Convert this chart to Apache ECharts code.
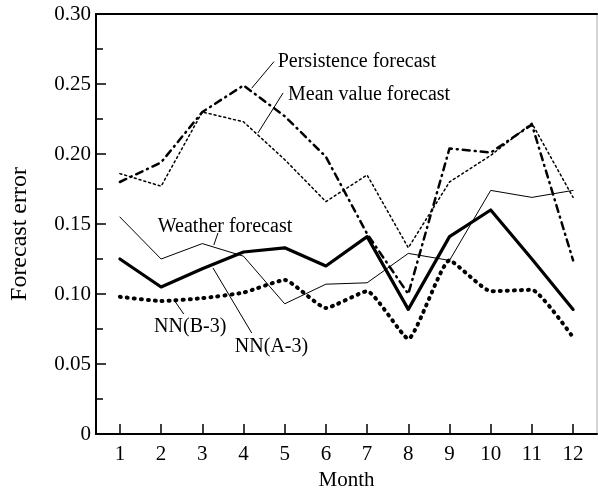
<!DOCTYPE html>
<html>
<head>
<meta charset="utf-8">
<title>Forecast error by month</title>
<script src="https://cdn.jsdelivr.net/npm/echarts@6/dist/echarts.min.js"></script>
<style>
  html, body { margin: 0; padding: 0; background: #fff; }
  #main { width: 598px; height: 489px; }
</style>
</head>
<body>
<div id="main"></div>
<script>
// months on the x axis
var months = [1, 2, 3, 4, 5, 6, 7, 8, 9, 10, 11, 12];
// y axis tick values
var yTicks = [0, 0.05, 0.10, 0.15, 0.20, 0.25, 0.30];

// forecast error per month
var persistence = [0.180, 0.194, 0.230, 0.249, 0.227, 0.198, 0.143, 0.100, 0.204, 0.201, 0.221, 0.124];
var meanValue   = [0.186, 0.177, 0.230, 0.223, 0.196, 0.166, 0.185, 0.133, 0.180, 0.199, 0.222, 0.169];
var weather     = [0.155, 0.125, 0.136, 0.127, 0.093, 0.107, 0.108, 0.129, 0.124, 0.174, 0.169, 0.174];
var nnA3        = [0.125, 0.105, 0.118, 0.130, 0.133, 0.120, 0.141, 0.089, 0.141, 0.160, 0.125, 0.089];
var nnB3        = [0.098, 0.095, 0.097, 0.101, 0.110, 0.090, 0.102, 0.068, 0.124, 0.102, 0.103, 0.069];

var FONT = '"Liberation Serif", "Times New Roman", serif';

function pairs(vals) {
  return months.map(function (m, i) { return [m, vals[i]]; });
}

function lineSeries(name, vals, style, z) {
  return {
    name: name,
    type: 'line',
    data: pairs(vals),
    symbol: 'none',
    z: z,
    lineStyle: Object.assign({ color: '#000', cap: 'round', join: 'round' }, style)
  };
}

var myChart = echarts.init(document.getElementById('main'), null, { renderer: 'canvas' });

var option = {
  animation: false,
  backgroundColor: '#fff',
  grid: {
    left: 96, right: 1, top: 14, bottom: 55,
    outerBoundsMode: 'none',
    show: true, borderColor: '#aaa', borderWidth: 1
  },
  xAxis: [{
    type: 'value',
    min: 0.42, max: 12.58,
    splitLine: { show: false },
    axisLine: { show: true, lineStyle: { color: '#000', width: 2 } },
    axisTick: { show: true, inside: true, length: 10, customValues: months,
                lineStyle: { color: '#000', width: 1.5 } },
    axisLabel: { customValues: months, margin: 10, color: '#000',
                 fontFamily: FONT, fontSize: 21 },
    name: 'Month',
    nameLocation: 'middle',
    nameGap: 33,
    nameTextStyle: { color: '#000', fontFamily: FONT, fontSize: 21 }
  }, {
    type: 'value',
    position: 'top',
    min: 0.42, max: 12.58,
    splitLine: { show: false },
    axisLine: { show: true, lineStyle: { color: '#000', width: 2 } },
    axisTick: { show: false },
    axisLabel: { show: false }
  }],
  yAxis: {
    type: 'value',
    min: 0, max: 0.3, interval: 0.05,
    splitLine: { show: false },
    axisLine: { show: true, lineStyle: { color: '#000', width: 2 } },
    axisTick: { show: true, inside: true, length: 10, lineStyle: { color: '#000', width: 1.5 } },
    minorTick: { show: true, splitNumber: 2, length: 7, lineStyle: { color: '#000', width: 1.5 } },
    axisLabel: {
      margin: 5, color: '#000', fontFamily: FONT, fontSize: 21,
      formatter: function (v) { return v === 0 ? '0' : v.toFixed(2); }
    }
  },
  series: [
    lineSeries('Persistence forecast', persistence, { width: 2.5, type: [7, 5, 1, 5] }, 3),
    lineSeries('Mean value forecast', meanValue, { width: 1.5, type: [2, 3] }, 3),
    lineSeries('Weather forecast', weather, { width: 1 }, 4),
    lineSeries('NN(A-3)', nnA3, { width: 3.2 }, 5),
    Object.assign(lineSeries('NN(B-3)', nnB3, { width: 4, type: [1, 6] }, 5), { smooth: 0.15 })
  ]
};

myChart.setOption(option);

// annotation labels with leader lines, anchored in data units [month, value]
var notes = [
  { text: 'Persistence forecast', at: [4.83, 0.266], from: [4.20, 0.247], to: [4.74, 0.266] },
  { text: 'Mean value forecast',  at: [5.08, 0.242], from: [4.35, 0.215], to: [4.96, 0.2436] },
  { text: 'Weather forecast',     at: [1.92, 0.148], from: [3.28, 0.135], to: [3.38, 0.1436] },
  { text: 'NN(B-3)',              at: [1.83, 0.0764], from: [2.33, 0.095], to: [2.55, 0.0857] },
  { text: 'NN(A-3)',              at: [3.79, 0.062], from: [3.26, 0.1186], to: [4.20, 0.0721] }
];

var elements = [];
notes.forEach(function (n) {
  var p = myChart.convertToPixel({ gridIndex: 0 }, n.at);
  var a = myChart.convertToPixel({ gridIndex: 0 }, n.from);
  var b = myChart.convertToPixel({ gridIndex: 0 }, n.to);
  elements.push({
    type: 'text', x: p[0], y: p[1], z: 10,
    style: { text: n.text, fill: '#000', font: '20px ' + FONT,
             textAlign: 'left', textVerticalAlign: 'middle' }
  });
  elements.push({
    type: 'line', z: 10,
    shape: { x1: a[0], y1: a[1], x2: b[0], y2: b[1] },
    style: { stroke: '#000', lineWidth: 1 }
  });
});

// y axis title, rotated and a little below centre as in the original
elements.push({
  type: 'text', x: 20, y: 234, rotation: Math.PI / 2,
  style: { text: 'Forecast error', fill: '#000', font: '24px ' + FONT,
           textAlign: 'center', textVerticalAlign: 'middle' }
});

myChart.setOption({ graphic: { elements: elements } });
</script>
</body>
</html>
